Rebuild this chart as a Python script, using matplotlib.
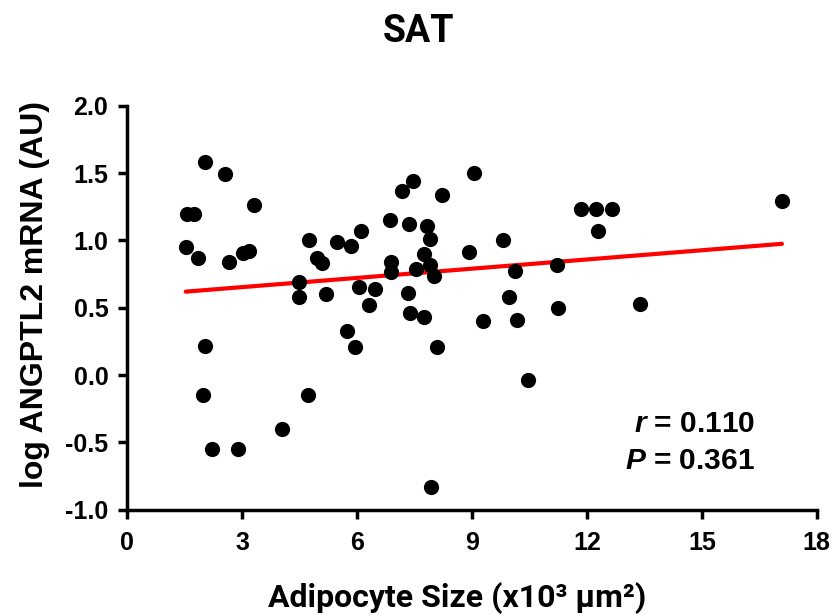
import numpy as np
import matplotlib
matplotlib.use("Agg")
import matplotlib.pyplot as plt

plt.rcParams['font.family'] = ['Liberation Sans', 'DejaVu Sans']
plt.rcParams['font.weight'] = 'bold'
plt.rcParams['mathtext.fontset'] = 'custom'
plt.rcParams['mathtext.it'] = 'Liberation Sans:italic:bold'
plt.rcParams['mathtext.rm'] = 'Liberation Sans:bold'

# adipocyte size (x10^3 um^2) vs log ANGPTL2 mRNA (AU)
adipocyte_size = [1.53, 1.56, 1.75, 1.84, 2.04, 2.03, 1.98, 2.21, 2.56, 2.65,
                  2.90, 3.02, 3.19, 3.32, 4.05, 4.48, 4.50, 4.72, 4.76, 4.95,
                  5.09, 5.20, 5.49, 5.75, 5.85, 5.96, 6.05, 6.10, 6.32, 6.46,
                  6.87, 6.88, 6.88, 7.17, 7.33, 7.35, 7.39, 7.45, 7.54, 7.75,
                  7.76, 7.84, 7.91, 7.91, 7.94, 8.02, 8.09, 8.23, 8.93, 9.06,
                  9.28, 9.82, 9.97, 10.12, 10.17, 10.46, 11.21, 11.24, 11.84, 12.25,
                  12.29, 12.66, 13.39, 17.09]
log_angptl2 = [0.95, 1.20, 1.20, 0.87, 1.585, 0.22, -0.145, -0.545, 1.49, 0.84,
               -0.545, 0.91, 0.92, 1.26, -0.40, 0.58, 0.69, -0.15, 1.00, 0.87,
               0.83, 0.60, 0.99, 0.33, 0.96, 0.21, 0.655, 1.07, 0.52, 0.64,
               1.15, 0.84, 0.765, 1.37, 0.61, 1.125, 0.465, 1.44, 0.785, 0.43,
               0.90, 1.11, 1.01, 0.815, -0.83, 0.735, 0.21, 1.34, 0.915, 1.50,
               0.40, 1.00, 0.58, 0.775, 0.41, -0.035, 0.82, 0.495, 1.23, 1.23,
               1.07, 1.23, 0.53, 1.29]

# regression line end points
fit_x = [1.53, 17.09]
fit_y = [0.62, 0.975]

x_ticks = [0, 3, 6, 9, 12, 15, 18]
y_ticks = [-1.0, -0.5, 0.0, 0.5, 1.0, 1.5, 2.0]

fig = plt.figure(figsize=(8.36, 6.15), dpi=100)
ax = fig.add_axes([0.152, 0.171, 0.825, 0.657])

ax.scatter(adipocyte_size, log_angptl2, s=120, color='black', zorder=3, linewidths=0)
ax.plot(fit_x, fit_y, color='#ff0000', linewidth=3, solid_capstyle='round', zorder=2)

ax.set_xlim(0, 18)
ax.set_ylim(-1.0, 2.0)
ax.set_xticks(x_ticks)
ax.set_xticklabels([str(t) for t in x_ticks])
ax.set_yticks(y_ticks)
ax.set_yticklabels([f'{t:.1f}' for t in y_ticks])

for side in ['top', 'right']:
    ax.spines[side].set_visible(False)
for side in ['left', 'bottom']:
    ax.spines[side].set_linewidth(2.5)
ax.tick_params(width=2.5, length=6.5, labelsize=18, direction='out')
ax.tick_params(axis='x', pad=9)
ax.tick_params(axis='y', pad=7)
for lab in ax.get_xticklabels() + ax.get_yticklabels():
    lab.set_fontweight('bold')

ax.set_xlabel('Adipocyte Size (x10³ µm²)', fontsize=23, fontweight='bold',
              family=['Roboto', 'DejaVu Sans'], va='baseline')
ax.xaxis.set_label_coords(0.478, -0.240)
ax.set_ylabel('log ANGPTL2 mRNA (AU)', fontsize=23, fontweight='bold', va='center')
ax.yaxis.set_label_coords(-0.133, 0.532)
fig.text(0.501, 0.932, 'SAT', ha='center', va='baseline', fontsize=27, fontweight='bold',
         family=['Roboto', 'DejaVu Sans'])

ax.text(0.91, 0.213, '$r$ = 0.110', transform=ax.transAxes, ha='right', va='center',
        fontsize=21.5, fontweight='bold')
ax.text(0.91, 0.122, '$P$ = 0.361', transform=ax.transAxes, ha='right', va='center',
        fontsize=21.5, fontweight='bold')

plt.savefig('out.png', dpi=100)
